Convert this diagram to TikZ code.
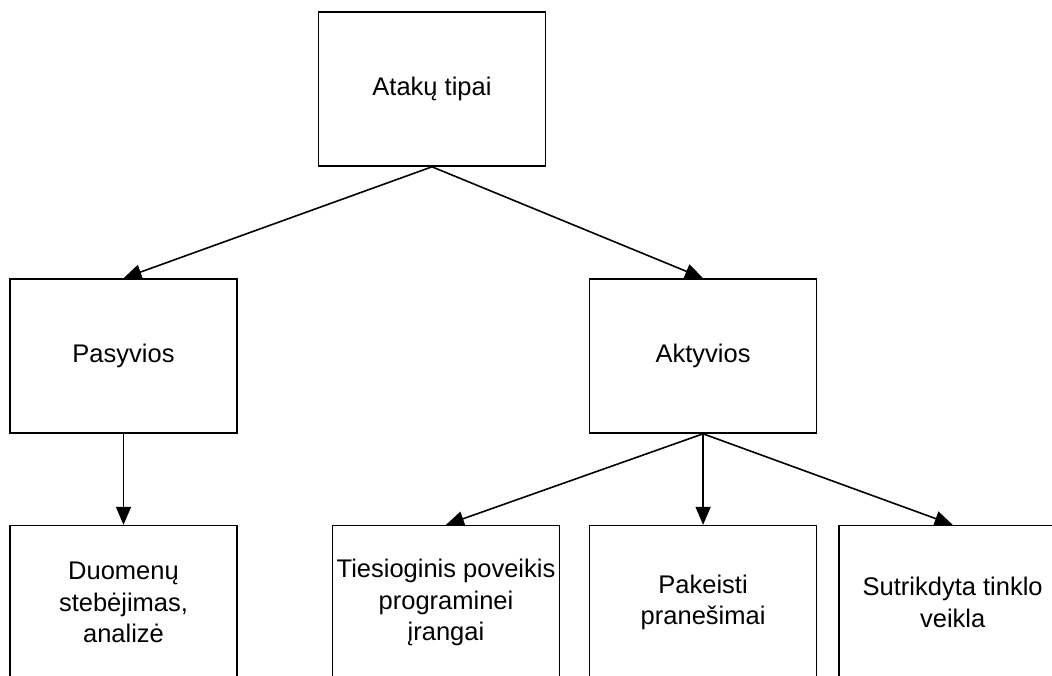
\documentclass[tikz,border=0pt]{standalone}
\usepackage{fontspec}
\setmainfont{Liberation Sans}
\usetikzlibrary{arrows.meta, positioning}

\begin{document}
\begin{tikzpicture}[
    x=1pt, y=-1pt,
    font=\fontsize{25.5}{31.5}\selectfont,
    box/.style={draw=black, line width=1.6pt, fill=white,
        minimum width=227pt, minimum height=154pt,
        inner sep=0pt, align=center},
    flow/.style={-{Triangle[length=18pt, width=15pt]}, line width=1.6pt, black},
]
\useasboundingbox[fill=white] (0,0) rectangle (1052,675);

% pagrindiniai mazgai
\node[box] (tipai) at (432,89) {Atakų tipai};
\node[box] (pasyv) at (123.5,356) {Pasyvios};
\node[box, right=351pt of pasyv] (aktyv) {Aktyvios};

% apatinė eilė
\node[box, below=91pt of pasyv] (duom) {Duomenų\\stebėjimas,\\analizė};
\node[box, below=91pt of aktyv] (pranes) {Pakeisti\\pranešimai};
\node[box, left=28.5pt of pranes] (poveik) {Tiesioginis poveikis\\programinei\\įrangai};
\node[box, right=21pt of pranes] (sutrik) {Sutrikdyta tinklo\\veikla};

% rodyklės
\draw[flow] (tipai.south) -- (pasyv.north);
\draw[flow] (tipai.south) -- (aktyv.north);
\draw[flow] (pasyv.south) -- (duom.north);
\draw[flow] (aktyv.south) -- (poveik.north);
\draw[flow] (aktyv.south) -- (pranes.north);
\draw[flow] (aktyv.south) -- (sutrik.north);

\end{tikzpicture}
\end{document}
